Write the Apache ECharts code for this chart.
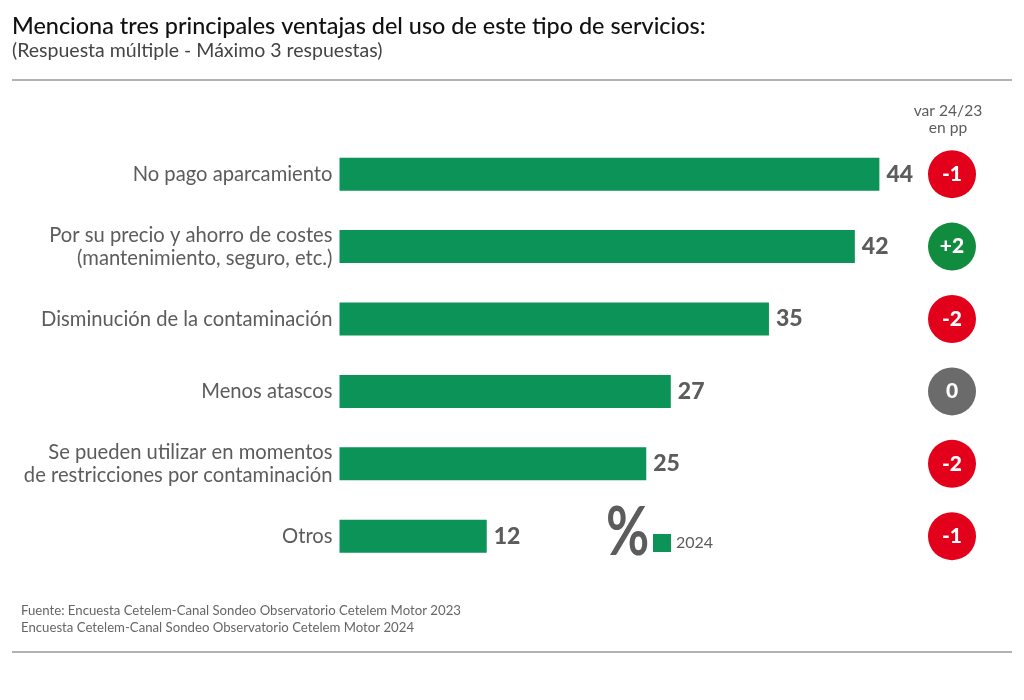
<!DOCTYPE html>
<html><head><meta charset="utf-8">
<style>html,body{margin:0;padding:0;background:#fff}#c{width:1024px;height:700px}</style>
<script src="https://cdn.jsdelivr.net/npm/echarts@6/dist/echarts.min.js"></script>
</head><body><div id="c"></div>
<script>
const categories = ['No pago aparcamiento','Por su precio y ahorro de costes\n(mantenimiento, seguro, etc.)','Disminución de la contaminación','Menos atascos','Se pueden utilizar en momentos\nde restricciones por contaminación','Otros'];
const values2024 = [44,42,35,27,25,12];
const variation = ['-1','+2','-2','0','-2','-1'];
const varColumn = ['var'];
const titleText = 'Menciona tres principales ventajas del uso de este tipo de servicios:';
const subtitleText = '(Respuesta múltiple - Máximo 3 respuestas)';
const sourceText = 'Fuente: Encuesta Cetelem-Canal Sondeo Observatorio Cetelem Motor 2023\nEncuesta Cetelem-Canal Sondeo Observatorio Cetelem Motor 2024';
const varHeader = 'var 24/23\nen pp';
const font = 'Lato';
const GREY = '#5c5c5c';
const colorFor = v => { const n = Number(v); return n > 0 ? '#118c3f' : n < 0 ? '#e2001a' : '#6b6b6b'; };
const chart = echarts.init(document.getElementById('c'));
chart.setOption({
  animation:false,
  backgroundColor:'#fff',
  textStyle:{fontFamily:font},
  title:{left:12,top:15,padding:0,itemGap:3,text:titleText,subtext:subtitleText,
    textStyle:{fontFamily:font,fontSize:23.4,fontWeight:500,color:'#111'},
    subtextStyle:{fontFamily:font,fontSize:19.5,color:'#444'}},
  legend:{left:653,top:534,padding:0,data:['2024'],icon:'rect',itemWidth:18,itemHeight:18,itemGap:5,
    selectedMode:false,textStyle:{fontFamily:font,fontSize:16,color:GREY,padding:[10,0,0,0]}},
  grid:[{left:339.5,top:138,width:613.5,height:434.4},{left:928,top:138,width:48,height:434.4}],
  xAxis:[
    {gridIndex:0,type:'value',min:0,max:50,show:false},
    {gridIndex:1,type:'category',data:varColumn,show:false}
  ],
  yAxis:[
    {gridIndex:0,type:'category',inverse:true,data:categories,
      axisLine:{show:false},axisTick:{show:false},
      axisLabel:{margin:7,fontFamily:font,fontSize:20.2,lineHeight:23,color:GREY,align:'right'}},
    {gridIndex:1,type:'category',inverse:true,data:categories,show:false}
  ],
  series:[
    {name:'2024',type:'bar',xAxisIndex:0,yAxisIndex:0,data:values2024,barWidth:33,
      itemStyle:{color:'#0b9358'},
      label:{show:true,position:'right',distance:7,fontFamily:font,fontSize:23,fontWeight:900,color:GREY}},
    {name:'var',type:'scatter',xAxisIndex:1,yAxisIndex:1,symbol:'circle',symbolSize:48,
      data:variation.map((v,i)=>({value:[varColumn[0],categories[i]],label:{formatter:v},itemStyle:{color:colorFor(v),opacity:1}})),
      label:{show:true,position:'inside',fontFamily:font,fontSize:21,fontWeight:900,color:'#fff'}}
  ],
  graphic:[
    {type:'line',shape:{x1:12,y1:80,x2:1012,y2:80},style:{stroke:'#999',lineWidth:1.5}},
    {type:'line',shape:{x1:12,y1:652,x2:1012,y2:652},style:{stroke:'#999',lineWidth:1.5}},
    {type:'text',x:21,y:602,style:{text:sourceText,fontFamily:font,fontSize:13.2,lineHeight:17,fill:'#666'}},
    {type:'text',x:948,y:102,style:{text:varHeader,align:'center',fontFamily:font,fontSize:15.6,lineHeight:17,fill:GREY}},
    {type:'text',x:606,y:501,scaleX:0.8,style:{text:'%',fontFamily:font,fontSize:66,fontWeight:700,fill:GREY}}
  ]
});
</script></body></html>
